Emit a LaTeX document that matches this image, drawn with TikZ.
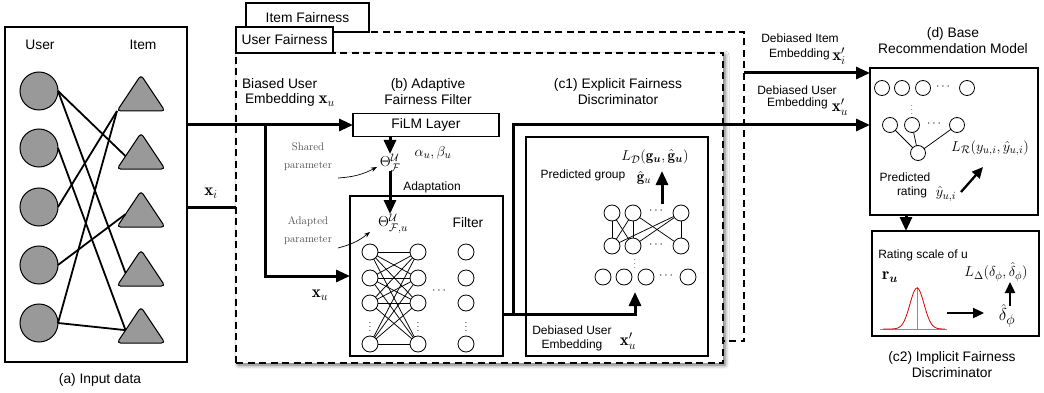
\documentclass[tikz,border=0pt]{standalone}
\usepackage{fontspec}
\setsansfont{Liberation Sans}
\usepackage{amsmath,amssymb,bm}
\usetikzlibrary{arrows.meta,shapes.geometric,shadows.blur}

\begin{document}
\begin{tikzpicture}[x=1pt,y=-1pt,
  every node/.style={inner sep=0pt, outer sep=0pt},
  txtbig/.style={font=\sffamily\fontsize{13.8}{16}\selectfont},
  txtsmall/.style={font=\sffamily\fontsize{12}{14.5}\selectfont},
  mathbig/.style={font=\fontsize{17}{17}\selectfont},
  mathmid/.style={font=\fontsize{15}{15}\selectfont},
  hand/.style={font=\rmfamily\fontsize{11}{18}\selectfont, text=black!70},
  solidbox/.style={draw, line width=1.8pt, anchor=north west},
  tabbox/.style={draw, line width=1.2pt, fill=white, anchor=north west,
    font=\sffamily\fontsize{13.8}{16}\selectfont},
  dashbox/.style={draw, line width=1.8pt, dash pattern=on 7pt off 4.5pt,
    fill=white, anchor=north west},
  flow/.style={line width=3pt, -{Triangle[length=14pt,width=12pt]}},
  pipe/.style={line width=3pt},
  pointer/.style={line width=2.3pt, -{Triangle[length=11pt,width=10pt]}},
  remark/.style={line width=0.7pt, -{Stealth[length=6pt,width=4.5pt]}},
  neuron/.style={circle, draw, line width=0.8pt, fill=white, minimum size=16pt},
  dotsym/.style={font=\fontsize{12}{12}\selectfont},
  link/.style={line width=0.75pt},
  bond/.style={line width=1.8pt},
  user/.style={circle, draw, line width=1pt, fill=black!40, minimum size=38pt},
  itemtri/.style={isosceles triangle, isosceles triangle stretches,
    shape border rotate=90, minimum width=48pt, minimum height=36pt,
    draw, line width=1pt, fill=black!40, rounded corners=3.5pt, anchor=apex}]

\useasboundingbox (0,0) rectangle (1044,393);

% ---------- fairness groups ----------
\node[dashbox, minimum width=498pt, minimum height=309pt] (itemgrp) at (246,32) {};
\node[tabbox, minimum width=123pt, minimum height=29pt] (itemtab) at (246,3) {Item Fairness};
\node[dashbox, blur shadow={shadow xshift=2pt, shadow yshift=-2pt,
  shadow blur radius=4pt, shadow opacity=60},
  minimum width=487pt, minimum height=310pt] (usergrp) at (236,53) {};
\node[tabbox, minimum width=97pt, minimum height=26pt] (usertab) at (236,27) {User Fairness};

% ---------- (a) input data ----------
\node[solidbox, minimum width=182pt, minimum height=335pt] (inbox) at (5,27) {};
\node[txtbig] (ulabel) at (40,45) {User};
\node[txtbig] (ilabel) at (143,45) {Item};
\foreach \k/\y in {1/91,2/148,3/207,4/265,5/323}
  \node[user] (u\k) at (39,\y) {};
\foreach \k/\y in {1/75,2/133,3/191,4/250,5/307}
  \node[itemtri] (t\k) at (141,\y) {};
\draw[bond] (u1.east) -- (t2.west);
\draw[bond] (u1.east) -- (t4.west);
\draw[bond] (u2.east) -- (t5.west);
\draw[bond] (u3.east) -- (t1.left corner);
\draw[bond] (u4.east) -- (t3.west);
\draw[bond] (u5.east) -- (t1.left corner);
\draw[bond] (u5.east) -- (t5.west);
\node[txtbig] (cap-a) at (100,380) {(a) Input data};

% ---------- (b) adaptive fairness filter ----------
\node[solidbox, txtbig, minimum width=146pt, minimum height=23pt] (film) at (353,113.5) {FiLM Layer};
\node[txtbig, anchor=west] (biased1) at (242,84) {Biased User};
\node[txtbig, anchor=west] (biased2) at (245,100) {Embedding {\fontsize{17}{17}\selectfont$\mathbf{x}_u$}};
\node[txtbig, align=center] (cap-b) at (428,92) {(b) Adaptive\\Fairness Filter};

\coordinate (split) at (265,125);
\draw[flow] (inbox.east |- film.west) -- (film.west);
\draw[pipe] (inbox.east |- 0,207) -- (usergrp.west |- 0,207);
\node[mathbig] (xi) at (211,193) {$\mathbf{x}_i$};

\node[mathmid, anchor=north] (thF) at (390,154) {$\Theta^{\mathcal{U}}_{\mathcal{F}}$};
\node[mathmid] (ab) at (433,153) {$\alpha_u, \beta_u$};
\node[txtsmall] (adapt) at (432,187) {Adaptation};
\draw[flow] (thF.north |- film.south) -- (thF.north);

\node[solidbox, minimum width=153pt, minimum height=160pt] (filt) at (350,196) {};
\node[txtbig] (filtlabel) at (468,223) {Filter};
\node[mathmid, anchor=north] (thFu) at (393,214) {$\Theta^{\mathcal{U}}_{\mathcal{F},u}$};
\draw[flow] (thF.south) -- (thF.south |- thFu.north);

\draw[flow] (split) |- (filt.west);
\node[mathbig] (xu) at (320,295) {$\mathbf{x}_u$};

\node[hand, align=center] (shared) at (308,157) {Shared\\parameter};
\coordinate (sharedfrom) at (338,178);
\coordinate (sharedto) at (377,167);
\draw[remark] (sharedfrom) to[bend right=12] (sharedto);
\node[hand, align=center] (adapted) at (308,231) {Adapted\\parameter};
\coordinate (adaptfrom) at (338,248);
\coordinate (adaptto) at (370,232);
\draw[remark] (adaptfrom) to[bend right=12] (adaptto);

% filter network
\foreach \r/\y in {1/252,2/278,3/303,4/344} {
  \node[neuron] (fa\r) at (370,\y) {};
  \node[neuron] (fb\r) at (418,\y) {};
  \node[neuron] (fc\r) at (466,\y) {};
}
\foreach \i in {1,...,4}
  \foreach \j in {1,...,4}
    \draw[link] (fa\i) -- (fb\j);
\foreach \c/\x in {a/370,b/418,c/466}
  \node[font=\fontsize{10}{10}\selectfont] (fd\c) at (\x,324) {$\vdots$};
\node[dotsym] (fdots) at (440,291) {$\cdots$};

% ---------- (c1) explicit fairness discriminator ----------
\node[solidbox, line width=1.4pt, minimum width=182pt, minimum height=219pt] (disc) at (526,137) {};
\node[txtbig, align=center] (cap-c1) at (618,92) {(c1) Explicit Fairness\\Discriminator};
\node[mathmid] (LD) at (655,157) {$L_{\mathcal{D}}(\mathbf{g}_{\bm{u}},\hat{\mathbf{g}}_{\bm{u}})$};
\node[txtsmall] (predg) at (583,175) {Predicted group};
\node[mathmid] (ghat) at (644,178) {$\hat{\mathbf{g}}_u$};
\coordinate (gfrom) at (662,204);
\coordinate (gto) at (662,171);
\draw[flow] (gfrom) -- (gto);

\foreach \k/\x in {1/612,2/633,3/681} {
  \node[neuron] (ct\k) at (\x,213) {};
  \node[neuron] (cm\k) at (\x,246) {};
}
\foreach \k/\x in {1/603,2/624,3/646,4/688}
  \node[neuron] (cb\k) at (\x,277) {};
\foreach \a/\b in {1/1,1/2,2/1,2/2,2/3,3/1,3/2,3/3}
  \draw[link] (ct\a) -- (cm\b);
\node[dotsym] (cdt) at (657,211) {$\cdots$};
\node[dotsym] (cdm) at (657,245) {$\cdots$};
\node[dotsym] (cdb) at (667,276) {$\cdots$};
\node[font=\fontsize{9}{9}\selectfont] (cdv) at (635,261) {$\vdots$};

\node[txtsmall] (dbu1) at (572,330) {Debiased User};
\node[txtsmall] (dbu2) at (572,345) {Embedding};
\node[mathbig] (xup) at (628,341) {$\mathbf{x}'_u$};

% filter output to the discriminator and the recommender
\coordinate (fout) at (filt.east |- 0,314);
\coordinate (tap) at (513,314);
\coordinate (discin) at (635,292);
\draw[flow] (fout) -| (discin);

% ---------- (d) base recommendation model ----------
\node[solidbox, minimum width=168pt, minimum height=147pt] (base) at (870,68) {};
\node[txtbig, align=center] (cap-d) at (953,41) {(d) Base\\Recommendation Model};
\draw[flow] (tap) |- (base.west |- 0,125);
\coordinate (itemout) at (744,73);
\draw[flow] (itemout) -- (itemout -| base.west);

\node[txtsmall] (dbi1) at (800,38) {Debiased Item};
\node[txtsmall, anchor=west] (dbi2) at (769,54) {Embedding};
\node[mathbig] (xip) at (839,56) {$\mathbf{x}'_i$};
\node[txtsmall] (dbuu1) at (797,90) {Debiased User};
\node[txtsmall, anchor=west] (dbuu2) at (767,103) {Embedding};
\node[mathbig] (xuup) at (840,107) {$\mathbf{x}'_u$};

\foreach \k/\x in {1/882,2/902,3/923,4/967}
  \node[neuron, minimum size=15pt] (bt\k) at (\x,88) {};
\foreach \k/\x in {1/890,2/912,3/957}
  \node[neuron, minimum size=15pt] (bm\k) at (\x,125) {};
\node[neuron, minimum size=15pt] (bo) at (918,153) {};
\foreach \k in {1,2,3}
  \draw[link] (bm\k) -- (bo);
\node[dotsym] (bdt) at (944,87) {$\cdots$};
\node[dotsym] (bdm) at (935,124) {$\cdots$};
\node[font=\fontsize{9}{9}\selectfont] (bdv) at (912,107) {$\vdots$};

\node[mathmid] (LR) at (990,148) {$L_{\mathcal{R}}(y_{u,i},\hat{y}_{u,i})$};
\node[txtsmall] (pr1) at (905,177) {Predicted};
\node[txtsmall] (pr2) at (912,192) {rating};
\node[mathmid] (yhat) at (946,194) {$\hat{y}_{u,i}$};
\coordinate (rfrom) at (961,192);
\coordinate (rto) at (983,167);
\draw[pointer] (rfrom) -- (rto);

% ---------- (c2) implicit fairness discriminator ----------
\node[solidbox, minimum width=167pt, minimum height=105pt] (c2) at (872,231) {};
\draw[flow] (906,0 |- base.south) -- (906,0 |- c2.north);
\node[txtsmall] (rscale) at (923,255) {Rating scale of u};
\node[mathbig] (ru) at (890,277) {$\mathbf{r}_{\bm{u}}$};
\node[mathmid] (LDelta) at (996,272) {$L_{\Delta}(\delta_{\phi},\hat{\delta}_{\phi})$};
\node[font=\fontsize{19}{19}\selectfont] (dhat) at (1007,316) {$\hat{\delta}_{\phi}$};

\draw[black!45, line width=0.5pt] (880,329) -- (947,329);
\draw[black!45, line width=0.5pt] (917,287) -- (917,329);
\draw[red!85!black, line width=0.8pt]
  plot[domain=883:945, samples=60, smooth] (\x, {329 - 41*exp(-((\x-917)/10)^2)});

\coordinate (gaussout) at (947,313);
\coordinate (dhatin) at (984,313);
\draw[pointer] (gaussout) -- (dhatin);
\coordinate (dup1) at (1010,306);
\coordinate (dup2) at (1010,282);
\draw[pointer] (dup1) -- (dup2);

\node[txtbig, align=center] (cap-c2) at (952,365) {(c2) Implicit Fairness\\Discriminator};

\end{tikzpicture}
\end{document}
